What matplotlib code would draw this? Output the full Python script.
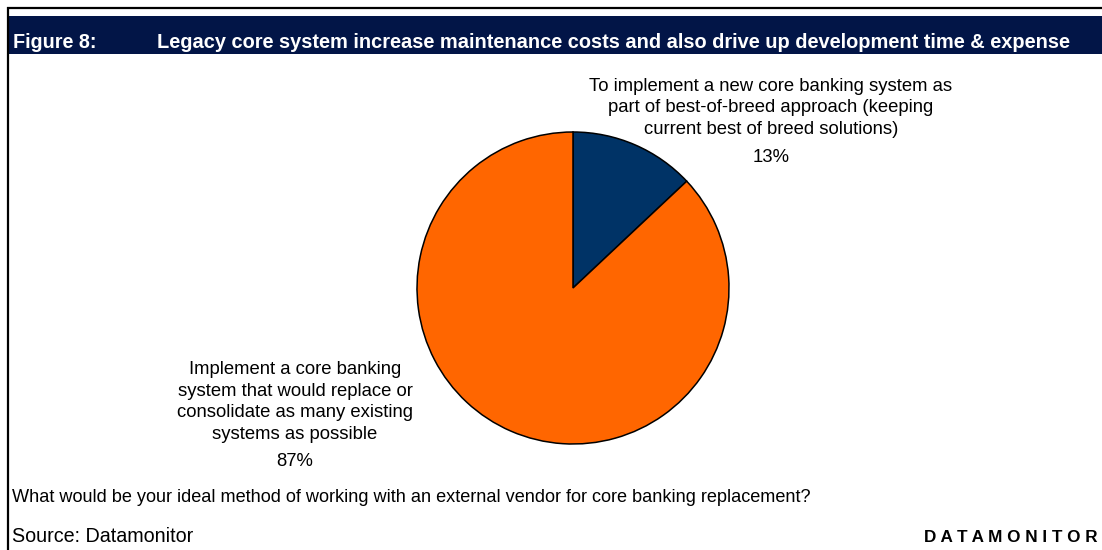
import matplotlib
matplotlib.use("Agg")
import matplotlib.pyplot as plt
from matplotlib.patches import Rectangle

plt.rcParams['font.family'] = ['Liberation Sans', 'DejaVu Sans']

# Data
categories = [
    "To implement a new core banking system as\npart of best-of-breed approach (keeping\ncurrent best of breed solutions)",
    "Implement a core banking\nsystem that would replace or\nconsolidate as many existing\nsystems as possible",
]
values = [13, 87]
colors = ["#003366", "#FF6600"]

fig_label = "Figure 8:"
title = "Legacy core system increase maintenance costs and also drive up development time & expense"
question = "What would be your ideal method of working with an external vendor for core banking replacement?"
source = "Source: Datamonitor"
brand = " ".join("DATAMONITOR")

W, H = 1102, 550
fig = plt.figure(figsize=(W / 100, H / 100), dpi=100)
fig.patch.set_facecolor("white")

# overlay axes in pixel coordinates
ov = fig.add_axes([0, 0, 1, 1])
ov.set_xlim(0, W)
ov.set_ylim(H, 0)
ov.axis("off")

# borders
ov.plot([7, W], [7.5, 7.5], color="black", lw=1.6, solid_capstyle="butt")
ov.plot([7.5, 7.5], [7, H], color="black", lw=1.6, solid_capstyle="butt")
# header band
ov.add_patch(Rectangle((9, 16), W - 9, 38, facecolor="#021547", edgecolor="none"))
ov.text(13, 42, fig_label, color="white", fontsize=14.2, fontweight="bold", va="center", ha="left")
ov.text(157, 42, title, color="white", fontsize=14.4, fontweight="bold", va="center", ha="left")

# pie
cx, cy, r = 573, 288, 156
pax = fig.add_axes([(cx - r) / W, (H - cy - r) / H, 2 * r / W, 2 * r / H])
pax.pie(values, colors=colors, startangle=90, counterclock=False,
        wedgeprops=dict(edgecolor="black", linewidth=1.1))
pax.set_xlim(-1, 1)
pax.set_ylim(-1, 1)
pax.set_aspect("equal")
pax.axis("off")

# labels
fs = 13.3
ov.text(771, 108, categories[0], ha="center", va="center", fontsize=fs, linespacing=1.37)
ov.text(771, 158, f"{values[0]}%", ha="center", va="center", fontsize=fs)
ov.text(295, 402, categories[1], ha="center", va="center", fontsize=fs, linespacing=1.37)
ov.text(295, 461, f"{values[1]}%", ha="center", va="center", fontsize=fs)

ov.text(12, 498, question, ha="left", va="center", fontsize=13.1)
ov.text(12, 537, source, ha="left", va="center", fontsize=14.2)
ov.text(1098, 537, brand, ha="right", va="center", fontsize=12.3, fontweight="bold")

fig.savefig("out.png", dpi=100)
